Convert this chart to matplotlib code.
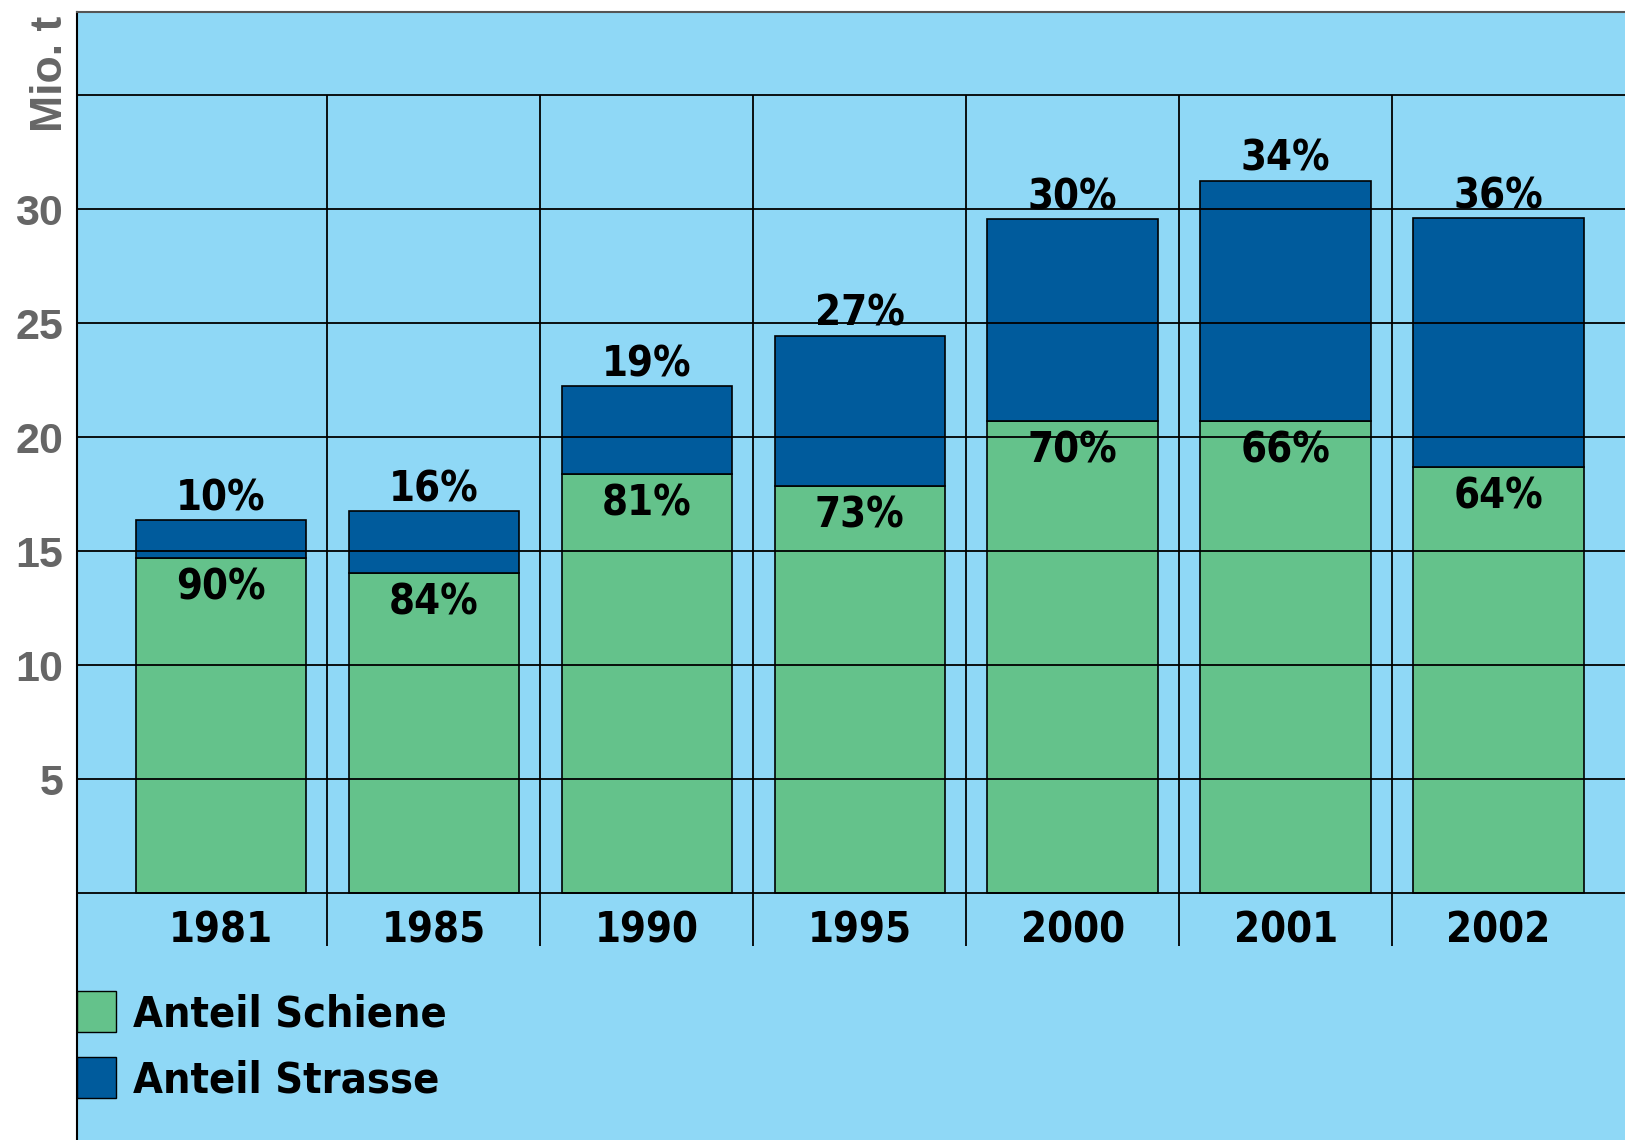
import matplotlib.pyplot as plt
from matplotlib.patches import Patch

years = ['1981', '1985', '1990', '1995', '2000', '2001', '2002']
schiene = [14.7, 14.05, 18.4, 17.85, 20.7, 20.7, 18.7]
strasse = [1.65, 2.7, 3.85, 6.6, 8.85, 10.55, 10.9]
pct_schiene = ['90%', '84%', '81%', '73%', '70%', '66%', '64%']
pct_strasse = ['10%', '16%', '19%', '27%', '30%', '34%', '36%']
yticks = [5, 10, 15, 20, 25, 30]

bg = '#8fd8f6'
green = '#64c28b'
blue = '#005b9c'
cond = ['DejaVu Sans']

fig = plt.figure(figsize=(16.25, 11.4), dpi=100)
ax = fig.add_axes([77/1625, 0, 1 - 77/1625, 1 - 12/1140])
ax.set_facecolor(bg)
ax.set_xlim(-0.676, 6.594)
ax.set_ylim(-10.82, 38.64)

x = range(len(years))
ax.bar(x, schiene, width=0.8, color=green, edgecolor='black', linewidth=1.2, zorder=2)
ax.bar(x, strasse, bottom=schiene, width=0.8, color=blue, edgecolor='black', linewidth=1.2, zorder=2)

# grid on top of bars
for v in [0] + yticks + [35]:
    ax.axhline(v, color='black', lw=1.3, zorder=3)
ax.vlines([i + 0.5 for i in range(len(years) - 1)], -2.32, 35, color='black', lw=1.3, zorder=3)

lbl = dict(fontsize=30, fontweight='bold', family=cond, fontstretch='condensed')
for i in x:
    tot = schiene[i] + strasse[i]
    ax.text(i, tot + 0.95, pct_strasse[i], ha='center', va='center', zorder=4, **lbl)
    ax.text(i, schiene[i] - 1.3, pct_schiene[i], ha='center', va='center', zorder=4, **lbl)
    ax.text(i, -1.65, years[i], ha='center', va='center', **lbl)

ax.set_xticks([])
ax.set_yticks(yticks)
ax.set_yticklabels([str(v) for v in yticks], fontsize=31, fontweight='bold',
                   color='#666666', family='Liberation Sans')
ax.tick_params(axis='y', length=0, pad=10)
for s in ['right', 'bottom']:
    ax.spines[s].set_visible(False)
ax.spines['left'].set_linewidth(1.5)
ax.spines['top'].set_linewidth(1.5)
ax.spines['top'].set_color('#555555')

fig.text(0.031, 0.935, 'Mio. t', rotation=90, ha='center', va='center', fontsize=32,
         fontweight='bold', color='#666666', family='Liberation Sans')

handles = [Patch(facecolor=green, edgecolor='black', label='Anteil Schiene'),
           Patch(facecolor=blue, edgecolor='black', label='Anteil Strasse')]
leg = ax.legend(handles=handles, loc='upper left', bbox_to_anchor=(0, 0.132), frameon=False,
                prop={'family': cond, 'weight': 'bold', 'size': 31, 'stretch': 'condensed'},
                handlelength=0.9, handleheight=1.1, handletextpad=0.4,
                labelspacing=0.5, borderaxespad=0, borderpad=0)

fig.savefig('out.png', dpi=100)
